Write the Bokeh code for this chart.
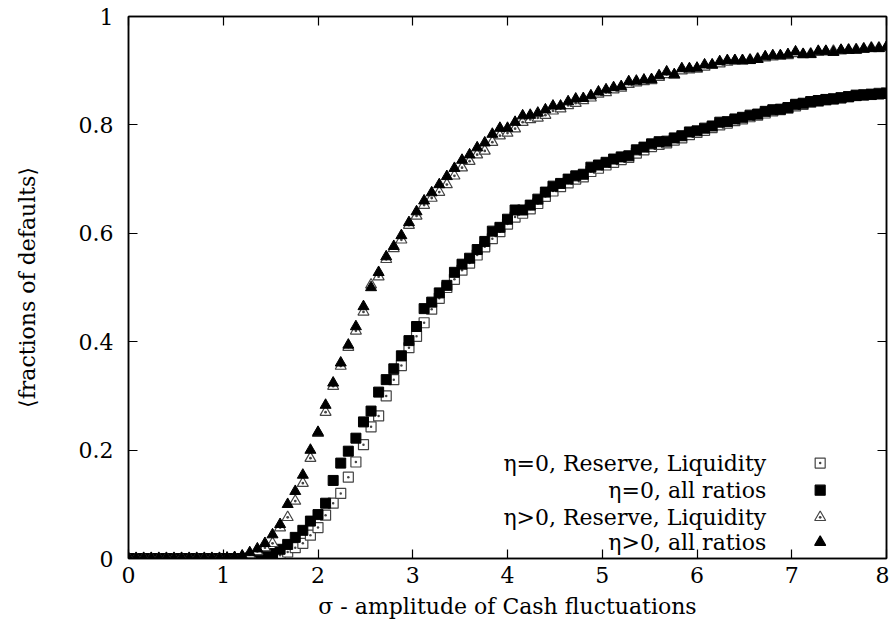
from bokeh.plotting import figure
from bokeh.models import LinearAxis, FixedTicker, Range1d, Label, CustomJSTickFormatter
from bokeh.embed import file_html
from bokeh.resources import INLINE

# ---------------- data ----------------
sigma = [round(0.08 * i, 2) for i in range(101)]

# eta = 0, Reserve, Liquidity (open squares)
s_open = [0, 0, 0, 0, 0, 0, 0, 0, 0, 0,
          0, 0, 0, 0, 0, 0, 0, 0, 0.001, 0.003,
          0.006, 0.012, 0.02, 0.028, 0.043, 0.057, 0.08, 0.102, 0.12, 0.15,
          0.178, 0.21, 0.243, 0.263, 0.30, 0.33, 0.356, 0.389, 0.41, 0.435,
          0.46, 0.48, 0.50, 0.515, 0.532, 0.545, 0.56, 0.575, 0.59, 0.603,
          0.617, 0.63, 0.637, 0.645, 0.655, 0.668, 0.678, 0.686, 0.693, 0.70,
          0.704, 0.714, 0.72, 0.726, 0.731, 0.736, 0.74, 0.748, 0.754, 0.76,
          0.764, 0.767, 0.772, 0.776, 0.782, 0.786, 0.79, 0.795, 0.80, 0.803,
          0.808, 0.811, 0.815, 0.818, 0.822, 0.826, 0.828, 0.831, 0.835, 0.838,
          0.842, 0.844, 0.846, 0.848, 0.85, 0.852, 0.855, 0.856, 0.857, 0.858,
          0.859]

# eta = 0, all ratios (filled squares)
s_fill = [0, 0, 0, 0, 0, 0, 0, 0, 0, 0,
          0, 0, 0, 0, 0, 0, 0.001, 0.003, 0.005, 0.009,
          0.017, 0.026, 0.039, 0.052, 0.069, 0.081, 0.102, 0.144, 0.176, 0.198,
          0.222, 0.252, 0.272, 0.307, 0.33, 0.35, 0.374, 0.402, 0.428, 0.461,
          0.473, 0.49, 0.504, 0.528, 0.543, 0.554, 0.57, 0.585, 0.604, 0.611,
          0.626, 0.643, 0.643, 0.652, 0.663, 0.676, 0.687, 0.692, 0.70, 0.706,
          0.709, 0.722, 0.726, 0.731, 0.737, 0.741, 0.743, 0.754, 0.759, 0.765,
          0.769, 0.77, 0.776, 0.78, 0.787, 0.789, 0.794, 0.798, 0.805, 0.806,
          0.811, 0.814, 0.818, 0.82, 0.825, 0.828, 0.829, 0.832, 0.838, 0.84,
          0.843, 0.845, 0.847, 0.848, 0.85, 0.852, 0.854, 0.855, 0.856, 0.857,
          0.858]

# eta > 0, Reserve, Liquidity (open triangles)
t_open = [0, 0, 0, 0, 0, 0, 0, 0, 0, 0,
          0, 0, 0, 0, 0.001, 0.003, 0.007, 0.013, 0.02, 0.028,
          0.057, 0.076, 0.106, 0.139, 0.185, 0.231, 0.27, 0.318, 0.355, 0.39,
          0.42, 0.455, 0.505, 0.52, 0.552, 0.572, 0.588, 0.615, 0.632, 0.652,
          0.665, 0.676, 0.69, 0.706, 0.721, 0.733, 0.745, 0.752, 0.768, 0.78,
          0.785, 0.793, 0.805, 0.81, 0.813, 0.818, 0.826, 0.83, 0.836, 0.84,
          0.845, 0.85, 0.857, 0.86, 0.865, 0.868, 0.875, 0.878, 0.88, 0.882,
          0.888, 0.893, 0.892, 0.90, 0.902, 0.903, 0.907, 0.91, 0.913, 0.916,
          0.918, 0.918, 0.92, 0.922, 0.924, 0.926, 0.927, 0.928, 0.932, 0.93,
          0.931, 0.934, 0.935, 0.936, 0.937, 0.938, 0.939, 0.94, 0.942, 0.942,
          0.943]

# eta > 0, all ratios (filled triangles)
t_fill = [0, 0, 0, 0, 0, 0, 0, 0, 0, 0,
          0, 0, 0, 0.001, 0.002, 0.005, 0.011, 0.018, 0.028, 0.044,
          0.063, 0.10, 0.124, 0.154, 0.20, 0.233, 0.283, 0.324, 0.361, 0.394,
          0.428, 0.465, 0.50, 0.528, 0.557, 0.576, 0.596, 0.62, 0.64, 0.66,
          0.675, 0.69, 0.705, 0.72, 0.735, 0.745, 0.758, 0.767, 0.783, 0.794,
          0.794, 0.805, 0.817, 0.818, 0.822, 0.828, 0.835, 0.835, 0.843, 0.848,
          0.849, 0.854, 0.861, 0.865, 0.869, 0.871, 0.88, 0.881, 0.883, 0.884,
          0.891, 0.898, 0.893, 0.904, 0.904, 0.905, 0.911, 0.911, 0.917, 0.919,
          0.919, 0.919, 0.919, 0.921, 0.926, 0.928, 0.928, 0.93, 0.935, 0.93,
          0.93, 0.936, 0.936, 0.934, 0.938, 0.938, 0.938, 0.94, 0.941, 0.941,
          0.944]

x_ticks = [0, 1, 2, 3, 4, 5, 6, 7, 8]
x_tick_labels = ["0", "1", "2", "3", "4", "5", "6", "7", "8"]
y_ticks = [0, 0.2, 0.4, 0.6, 0.8, 1]
y_tick_labels = ["0", "0.2", "0.4", "0.6", "0.8", "1"]

legend_labels = ["\u03b7=0, Reserve, Liquidity", "\u03b7=0, all ratios",
                 "\u03b7>0, Reserve, Liquidity", "\u03b7>0, all ratios"]

x_label = "\u03c3 - amplitude of Cash fluctuations"
y_label = "\u27e8fractions of defaults\u27e9"

# ---------------- figure ----------------
FONT = "DejaVu Serif"
FS = "22px"

p = figure(width=889, height=626, x_range=Range1d(0, 8), y_range=Range1d(0, 1),
           output_backend="svg", toolbar_location=None,
           min_border_left=128, min_border_right=3, min_border_top=16, min_border_bottom=68)
p.grid.visible = False
p.outline_line_color = "black"
p.outline_line_width = 1.5
p.background_fill_color = "white"
p.border_fill_color = "white"

def style_axis(ax, ticks, labels, show_labels):
    ax.ticker = FixedTicker(ticks=ticks)
    ax.major_tick_in = 9
    ax.major_tick_out = 0
    ax.minor_tick_line_color = None
    ax.axis_line_color = "black"
    ax.axis_line_width = 1.5
    ax.major_tick_line_width = 1.2
    ax.major_tick_line_color = "black"
    if show_labels:
        ax.major_label_overrides = {t: l for t, l in zip(ticks, labels)}
        ax.major_label_text_font = FONT
        ax.major_label_text_font_size = FS
        ax.major_label_text_color = "black"
    else:
        ax.formatter = CustomJSTickFormatter(code="return ''")
        ax.major_label_text_font_size = "1px"

xa = p.xaxis[0]
style_axis(xa, x_ticks, x_tick_labels, True)
xa.major_label_standoff = 8
xa.axis_label = x_label
xa.axis_label_text_font = FONT
xa.axis_label_text_font_size = FS
xa.axis_label_text_font_style = "normal"
xa.axis_label_text_color = "black"
xa.axis_label_standoff = 8

ya = p.yaxis[0]
style_axis(ya, y_ticks, y_tick_labels, True)
ya.major_label_standoff = 15
ya.axis_label = y_label
ya.axis_label_text_font = FONT
ya.axis_label_text_font_size = FS
ya.axis_label_text_font_style = "normal"
ya.axis_label_text_color = "black"
ya.axis_label_standoff = 36

top = LinearAxis()
style_axis(top, x_ticks, x_tick_labels, False)
p.add_layout(top, "above")
right = LinearAxis()
style_axis(right, y_ticks, y_tick_labels, False)
p.add_layout(right, "right")

SZ = 10
# series, drawn in gnuplot order
p.scatter(sigma, s_open, marker="square_dot", size=SZ, fill_color="white",
          line_color="#444444", line_width=1.2)
p.scatter(sigma, s_fill, marker="square", size=SZ, fill_color="black",
          line_color="black", line_width=1)
p.scatter(sigma, t_open, marker="triangle_dot", size=SZ + 1, fill_color="white",
          line_color="#444444", line_width=1.2)
p.scatter(sigma, t_fill, marker="triangle", size=SZ + 1, fill_color="black",
          line_color="black", line_width=1)

# key (gnuplot style: text right-aligned, sample to the right)
key_y = [0.176, 0.126, 0.076, 0.030]
key_text_x = 6.73
key_mark_x = 7.30
markers = [("square_dot", "white", "#444444", SZ),
           ("square", "black", "black", SZ),
           ("triangle_dot", "white", "#444444", SZ + 1),
           ("triangle", "black", "black", SZ + 1)]
for lab, ky, (mk, fc, lc, sz) in zip(legend_labels, key_y, markers):
    p.add_layout(Label(x=key_text_x, y=ky, text=lab, text_align="right",
                       text_baseline="middle", text_font=FONT,
                       text_font_size=FS, text_color="black"))
    p.scatter([key_mark_x], [ky], marker=mk, size=sz, fill_color=fc,
              line_color=lc, line_width=1.2)

open("out.html", "w").write(file_html(p, INLINE))
